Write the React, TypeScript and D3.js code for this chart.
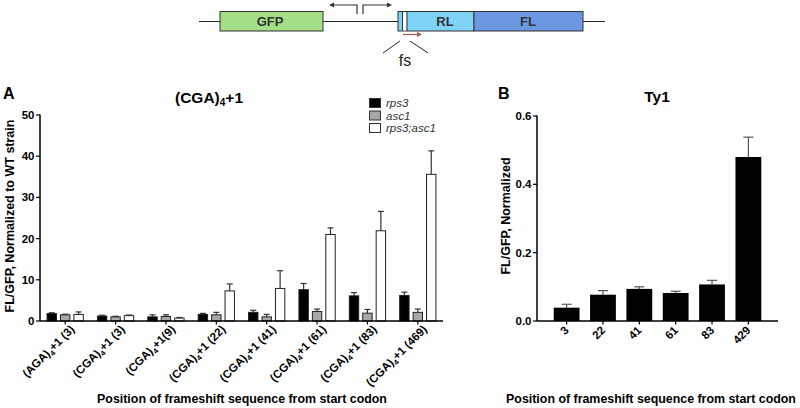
import React from 'react';
import * as d3 from 'd3';

// ---------- Data ----------
const codonsA = ['AGA', 'CGA', 'CGA', 'CGA', 'CGA', 'CGA', 'CGA', 'CGA'];
const suffixA = ['+1 (3)', '+1 (3)', '+1(9)', '+1 (22)', '+1 (41)', '+1 (61)', '+1 (83)', '+1 (469)'];
const seriesA = ['rps3', 'asc1', 'rps3;asc1'];
const rps3Vals = [1.8, 1.2, 1.0, 1.6, 2.1, 7.6, 6.1, 6.2];
const rps3Err = [0.2, 0.2, 0.5, 0.25, 0.5, 1.5, 0.8, 0.8];
const asc1Vals = [1.5, 1.0, 1.1, 1.5, 1.0, 2.3, 1.9, 2.1];
const asc1Err = [0.15, 0.15, 0.4, 0.6, 0.6, 0.6, 0.9, 0.8];
const doubleVals = [1.6, 1.3, 0.7, 7.3, 7.9, 21.0, 21.9, 35.6];
const doubleErr = [0.6, 0.15, 0.15, 1.7, 4.3, 1.6, 4.7, 5.7];
const ticksA = [0, 10, 20, 30, 40, 50];

const positionsB = ['3', '22', '41', '61', '83', '429'];
const ty1Vals = [0.039, 0.077, 0.094, 0.082, 0.107, 0.48];
const ty1Err = [0.01, 0.012, 0.006, 0.005, 0.012, 0.058];
const ticksB = [0, 0.2, 0.4, 0.6];

const FONT = '"Liberation Sans", Arial, sans-serif';
const seriesFill = ['#000000', '#a8a8a8', '#ffffff'];

export default function App() {
  // Panel A scales
  const xA = d3.scaleBand<number>().domain(d3.range(codonsA.length)).range([40, 443]).paddingInner(0.28).paddingOuter(0.14);
  const xA1 = d3.scaleBand<number>().domain(d3.range(seriesA.length)).range([0, xA.bandwidth()]).paddingInner(0.3);
  const yA = d3.scaleLinear().domain([0, 50]).range([321, 115]);
  const valsA = [rps3Vals, asc1Vals, doubleVals];
  const errsA = [rps3Err, asc1Err, doubleErr];

  // Panel B scales
  const xB = d3.scaleBand<number>().domain(d3.range(positionsB.length)).range([537, 778]).paddingInner(0.29).paddingOuter(0.46);
  const yB = d3.scaleLinear().domain([0, 0.6]).range([321, 116]);

  return (
    <svg width={800} height={408} style={{ position: 'absolute', left: 0, top: 0, background: '#fff' }} fontFamily={FONT}>
      {/* ---------- Top construct diagram ---------- */}
      <g>
        <line x1={199} x2={605} y1={21.5} y2={21.5} stroke="#222" strokeWidth={1.2} />
        <rect x={220} y={11.5} width={103} height={19.5} fill="#a3df86" stroke="#333" strokeWidth={1} />
        <rect x={398} y={11.5} width={76} height={19.5} fill="#7fd3f7" stroke="#333" strokeWidth={1} />
        <rect x={474} y={11.5} width={109} height={19.5} fill="#6b98e0" stroke="#333" strokeWidth={1} />
        <line x1={402.5} x2={402.5} y1={11.5} y2={31} stroke="#333" strokeWidth={1} />
        <rect x={403} y={12} width={3.5} height={18.5} fill="#ffffff" />
        <line x1={407} x2={407} y1={11.5} y2={31} stroke="#333" strokeWidth={1} />
        <text x={270} y={26} textAnchor="middle" fontSize={13} fontWeight="bold" fill="#333">GFP</text>
        <text x={445} y={26} textAnchor="middle" fontSize={13} fontWeight="bold" fill="#333">RL</text>
        <text x={528} y={26} textAnchor="middle" fontSize={13} fontWeight="bold" fill="#333">FL</text>
        {/* promoter arrows */}
        <path d="M357,14 V5 H331" fill="none" stroke="#333" strokeWidth={1.2} />
        <path d="M329,5 L334,2.5 L334,7.5 Z" fill="#333" />
        <path d="M363,14 V5 H390" fill="none" stroke="#333" strokeWidth={1.2} />
        <path d="M392,5 L387,2.5 L387,7.5 Z" fill="#333" />
        {/* fs arrow and lines */}
        <line x1={403} x2={419} y1={34.5} y2={34.5} stroke="#a0614f" strokeWidth={1.3} />
        <path d="M422,34.5 L417,32 L417,37 Z" fill="#a0614f" />
        <line x1={383} y1={53} x2={400} y2={41} stroke="#222" strokeWidth={1} />
        <line x1={410} y1={41} x2={428} y2={53} stroke="#222" strokeWidth={1} />
        <text x={405} y={65.5} textAnchor="middle" fontSize={16} fill="#222">fs</text>
      </g>

      {/* ---------- Panel A ---------- */}
      <text x={3} y={99} fontSize={16} fontWeight="bold">A</text>
      <text x={209} y={103} textAnchor="middle" fontSize={15.5} fontWeight="bold">
        <tspan>(CGA)</tspan>
        <tspan fontSize={10} dy={3}>4</tspan>
        <tspan dy={-3}>+1</tspan>
      </text>
      {/* legend */}
      {seriesA.map((s, i) => (
        <g key={s}>
          <rect x={369.5} y={98.5 + i * 12.5} width={11} height={9} fill={seriesFill[i]} stroke="#333" strokeWidth={1} />
          <text x={386} y={107 + i * 12.5} fontSize={11.5} fontStyle="italic" fill="#333">{s}</text>
        </g>
      ))}
      {/* bars */}
      {codonsA.map((_, g) => (
        <g key={g} transform={`translate(${xA(g)},0)`}>
          {seriesA.map((_, s) => {
            const v = valsA[s][g];
            const e = errsA[s][g];
            const bx = xA1(s)!;
            const bw = xA1.bandwidth();
            const cx = bx + bw / 2;
            return (
              <g key={s}>
                <line x1={cx} x2={cx} y1={yA(v)} y2={yA(v + e)} stroke="#333" strokeWidth={1.2} />
                <line x1={cx - 3} x2={cx + 3} y1={yA(v + e)} y2={yA(v + e)} stroke="#333" strokeWidth={1.2} />
                <rect x={bx} y={yA(v)} width={bw} height={yA(0) - yA(v)} fill={seriesFill[s]} stroke="#222" strokeWidth={1} />
              </g>
            );
          })}
        </g>
      ))}
      {/* axes */}
      <line x1={40} x2={40} y1={yA(50) - 0.5} y2={yA(0)} stroke="#000" strokeWidth={1.5} />
      <line x1={40} x2={443} y1={yA(0)} y2={yA(0)} stroke="#000" strokeWidth={1.5} />
      {ticksA.map(t => (
        <g key={t}>
          <line x1={36} x2={40} y1={yA(t)} y2={yA(t)} stroke="#000" strokeWidth={1.2} />
          <text x={34.5} y={yA(t) + 4} textAnchor="end" fontSize={11.5} fontWeight="bold">{t}</text>
        </g>
      ))}
      {codonsA.map((c, g) => {
        const gc = xA(g)! + xA.bandwidth() / 2;
        return (
          <g key={g}>
            <line x1={gc} x2={gc} y1={yA(0)} y2={yA(0) + 3.5} stroke="#000" strokeWidth={1.2} />
            <text transform={`translate(${gc + 10},${330}) rotate(-45)`} textAnchor="end" fontSize={11.5} fontWeight="bold">
              <tspan>({c})</tspan>
              <tspan fontSize={7.5} dy={3}>4</tspan>
              <tspan dy={-3}>{suffixA[g]}</tspan>
            </text>
          </g>
        );
      })}
      <text transform="translate(14,216) rotate(-90)" textAnchor="middle" fontSize={12.5} fontWeight="bold">FL/GFP, Normalized to WT strain</text>
      <text x={242} y={403} textAnchor="middle" fontSize={12.4} fontWeight="bold">Position of frameshift sequence from start codon</text>

      {/* ---------- Panel B ---------- */}
      <text x={498} y={99} fontSize={16} fontWeight="bold">B</text>
      <text x={657} y={102} textAnchor="middle" fontSize={15.5} fontWeight="bold">Ty1</text>
      {positionsB.map((p, i) => {
        const v = ty1Vals[i];
        const e = ty1Err[i];
        const bx = xB(i)!;
        const bw = xB.bandwidth();
        const cx = bx + bw / 2;
        return (
          <g key={p}>
            <line x1={cx} x2={cx} y1={yB(v)} y2={yB(v + e)} stroke="#555" strokeWidth={1.2} />
            <line x1={cx - 5} x2={cx + 5} y1={yB(v + e)} y2={yB(v + e)} stroke="#555" strokeWidth={1.2} />
            <rect x={bx} y={yB(v)} width={bw} height={yB(0) - yB(v)} fill="#000" />
            <line x1={cx} x2={cx} y1={yB(0)} y2={yB(0) + 3.5} stroke="#000" strokeWidth={1.2} />
            <text transform={`translate(${cx + 3},${331}) rotate(-45)`} textAnchor="end" fontSize={11.5} fontWeight="bold">{p}</text>
          </g>
        );
      })}
      <line x1={537} x2={537} y1={yB(0.6) - 0.5} y2={yB(0)} stroke="#000" strokeWidth={1.5} />
      <line x1={537} x2={778} y1={yB(0)} y2={yB(0)} stroke="#000" strokeWidth={1.5} />
      {ticksB.map(t => (
        <g key={t}>
          <line x1={533} x2={537} y1={yB(t)} y2={yB(t)} stroke="#000" strokeWidth={1.2} />
          <text x={531.5} y={yB(t) + 4} textAnchor="end" fontSize={11.5} fontWeight="bold">{t.toFixed(1)}</text>
        </g>
      ))}
      <text transform="translate(510,216) rotate(-90)" textAnchor="middle" fontSize={12.5} fontWeight="bold">FL/GFP, Normalized</text>
      <text x={651} y={403} textAnchor="middle" fontSize={12.4} fontWeight="bold">Position of frameshift sequence from start codon</text>
    </svg>
  );
}
